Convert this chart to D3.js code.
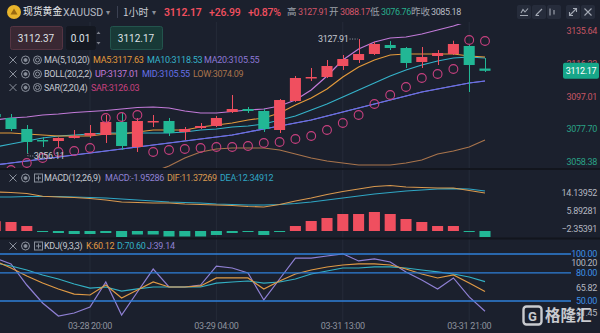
<!DOCTYPE html>
<html>
<head>
<meta charset="utf-8">
<script src="https://cdn.jsdelivr.net/npm/d3@7"></script>
<style>
  html, body { margin: 0; padding: 0; background: #1b202d; }
  svg { display: block; font-family: Roboto, "Noto Sans", sans-serif; }
</style>
</head>
<body>
<svg id="chart" width="600" height="333"></svg>
<script>
// ---- Data (hourly XAUUSD candles) ----
var times = [
  "03-28 14:00", "03-28 15:00", "03-28 16:00", "03-28 17:00", "03-28 18:00",
  "03-28 19:00", "03-28 20:00", "03-28 21:00", "03-28 22:00", "03-28 23:00",
  "03-29 00:00", "03-29 01:00", "03-29 02:00", "03-29 03:00", "03-29 04:00",
  "03-31 06:00", "03-31 07:00", "03-31 08:00", "03-31 09:00", "03-31 10:00",
  "03-31 11:00", "03-31 12:00", "03-31 13:00", "03-31 14:00", "03-31 15:00",
  "03-31 16:00", "03-31 17:00", "03-31 18:00", "03-31 19:00", "03-31 20:00",
  "03-31 21:00", "03-31 22:00"
];
var open = [3086.70, 3084.34, 3077.84, 3071.36, 3070.76, 3072.53, 3073.90, 3074.30, 3081.97, 3067.23,
  3081.97, 3082.56, 3076.08, 3078.43, 3079.61, 3087.87, 3089.64, 3088.47, 3077.25, 3094.36,
  3107.92, 3108.51, 3115.00, 3118.53, 3122.07, 3127.38, 3125.61, 3117.35, 3120.89, 3122.07,
  3126.79, 3113.50];
var high = [3088.50, 3086.69, 3080.20, 3073.13, 3072.90, 3077.25, 3080.20, 3086.10, 3087.29, 3084.34,
  3086.10, 3084.34, 3079.02, 3081.38, 3085.52, 3097.89, 3090.82, 3089.64, 3095.50, 3109.10,
  3113.82, 3118.53, 3121.48, 3130.90, 3129.20, 3129.70, 3126.20, 3126.20, 3124.43, 3129.90,
  3127.38, 3119.71];
var low = [3083.90, 3076.66, 3063.69, 3067.23, 3067.23, 3072.20, 3072.53, 3069.59, 3065.46, 3064.28,
  3079.02, 3073.71, 3071.36, 3077.84, 3079.02, 3087.29, 3087.29, 3076.08, 3075.48, 3093.80,
  3106.15, 3107.92, 3112.64, 3116.77, 3121.48, 3124.43, 3113.82, 3113.82, 3115.59, 3121.48,
  3099.66, 3111.46];
var close = [3084.90, 3077.84, 3070.18, 3070.76, 3072.53, 3073.71, 3075.48, 3081.97, 3067.82, 3082.56,
  3082.56, 3075.48, 3077.84, 3079.61, 3084.34, 3089.64, 3088.47, 3077.84, 3094.94, 3107.92,
  3108.51, 3115.00, 3119.12, 3122.07, 3127.97, 3125.61, 3116.77, 3120.30, 3122.66, 3127.97,
  3115.59, 3112.17];

var ma5 = [3075.48, 3075.48, 3074.90, 3074.30, 3073.71, 3073.71, 3073.71, 3074.90, 3074.90, 3076.08,
  3077.25, 3077.25, 3077.25, 3079.02, 3080.20, 3081.38, 3083.15, 3084.34, 3087.29, 3092.00,
  3096.12, 3101.43, 3108.51, 3114.41, 3118.53, 3121.48, 3122.07, 3122.07, 3122.07, 3122.07,
  3120.89, 3120.30];
var ma10 = [3067.23, 3069.00, 3070.76, 3072.53, 3073.71, 3074.30, 3074.90, 3075.48, 3075.48, 3075.48,
  3075.48, 3075.48, 3076.08, 3077.25, 3077.84, 3079.02, 3079.61, 3080.79, 3083.15, 3085.52,
  3089.05, 3092.59, 3096.71, 3100.84, 3104.97, 3109.10, 3112.64, 3115.59, 3117.95, 3119.71,
  3120.30, 3119.71];
var ma20 = [3056.61, 3057.79, 3058.97, 3060.15, 3061.33, 3062.51, 3063.69, 3064.87, 3066.05, 3067.23,
  3068.41, 3069.59, 3070.76, 3071.95, 3073.13, 3074.30, 3076.08, 3077.84, 3079.61, 3081.38,
  3083.15, 3085.52, 3087.87, 3090.23, 3092.59, 3094.94, 3097.30, 3099.66, 3101.43, 3103.20,
  3104.97, 3106.15];
var bollUp = [3083.15, 3084.34, 3084.92, 3086.10, 3086.69, 3087.58, 3088.17, 3088.76, 3089.64, 3090.52,
  3090.82, 3090.23, 3088.47, 3087.29, 3087.29, 3088.17, 3089.05, 3089.64, 3091.41, 3094.94,
  3100.84, 3109.10, 3118.53, 3125.02, 3129.15, 3131.51, 3132.10, 3133.87, 3136.23, 3138.59,
  3141.54, 3143.89];
var bollMid = [3056.61, 3057.79, 3058.97, 3060.15, 3061.33, 3062.51, 3063.69, 3064.87, 3066.05, 3067.23,
  3068.41, 3069.59, 3070.76, 3071.95, 3073.13, 3074.30, 3076.08, 3077.84, 3079.61, 3081.38,
  3083.15, 3085.52, 3087.87, 3090.23, 3092.59, 3094.94, 3097.30, 3099.66, 3101.43, 3103.20,
  3104.97, 3106.15];
var bollLow = [3031.25, 3032.43, 3034.20, 3035.38, 3037.15, 3038.33, 3040.09, 3041.87, 3044.22, 3047.77,
  3052.48, 3056.02, 3060.74, 3064.28, 3066.05, 3066.64, 3066.64, 3066.64, 3065.46, 3063.10,
  3060.74, 3058.97, 3057.79, 3056.61, 3056.61, 3056.61, 3057.79, 3059.56, 3063.10, 3064.87,
  3067.23, 3071.36];
var sar = [3052.48, 3053.66, 3057.79, 3060.74, 3064.28, 3064.87, 3066.64, 3084.34, 3084.92, 3086.10,
  3064.28, 3065.46, 3066.05, 3066.64, 3067.23, 3067.23, 3067.82, 3069.59, 3070.18, 3071.95,
  3073.71, 3077.25, 3081.38, 3086.10, 3092.59, 3097.89, 3102.61, 3107.92, 3110.28, 3113.23,
  3130.33, 3129.74];

var dif = [17.89, 17.66, 17.20, 15.95, 15.60, 15.37, 14.91, 14.22, 13.30, 13.07,
  12.84, 12.84, 12.39, 12.16, 11.93, 11.70, 11.24, 11.01, 12.16, 13.76,
  15.14, 16.74, 18.12, 19.27, 20.41, 20.87, 20.18, 19.95, 19.72, 19.72,
  18.58, 17.43];
var dea = [15.60, 15.60, 15.83, 15.83, 15.83, 15.60, 15.37, 15.14, 14.68, 14.22,
  13.76, 13.30, 13.07, 12.84, 12.39, 12.16, 11.93, 11.93, 12.16, 12.61,
  13.30, 14.22, 15.14, 16.06, 16.97, 17.66, 18.35, 18.81, 19.27, 19.45,
  19.27, 18.35];
var macdHist = [4.50, 4.13, 2.29, -0.23, -0.92, -1.38, -1.38, -0.92, -2.75, -1.60,
  -1.60, -2.52, -2.52, -2.52, -1.83, -0.92, -0.23, -1.83, -0.23, 2.29,
  4.59, 5.96, 7.80, 7.80, 8.72, 7.80, 5.50, 4.13, 2.29, 2.29,
  -0.23, -2.75];

var kVals = [92.6, 85.1, 76.6, 69.1, 62.8, 57.4, 56.4, 67.0, 53.2, 61.7,
  70.2, 64.9, 64.9, 66.0, 74.5, 74.5, 74.5, 62.8, 71.3, 78.7,
  83.0, 86.2, 88.3, 89.4, 89.4, 88.3, 84.0, 78.7, 74.5, 77.7,
  69.1, 60.12];
var dVals = [90.4, 87.2, 83.0, 77.7, 73.4, 68.1, 63.8, 64.9, 60.6, 62.8,
  64.9, 64.9, 64.9, 64.9, 69.1, 70.2, 71.3, 69.1, 70.2, 73.4,
  78.7, 81.9, 85.1, 85.1, 86.2, 86.2, 85.1, 83.0, 80.9, 78.7,
  75.5, 70.60];
var jVals = [95.7, 89.4, 67.0, 47.9, 34.0, 37.2, 43.6, 70.2, 35.1, 59.6,
  84.0, 64.9, 64.9, 67.0, 87.2, 85.1, 79.8, 51.1, 73.4, 95.7,
  95.7, 97.9, 100.2, 92.6, 94.7, 91.5, 80.9, 72.3, 62.8, 74.5,
  54.3, 39.14];

// tick labels
var priceTicks = [3135.64, 3116.33, 3097.01, 3077.70, 3058.38];
var prevClose = 3085.18;
var lastPrice = 3112.17;
var macdTicks = [14.13952, 5.89281, -2.35391];
var kdjLevels = [100, 80, 50];
var kdjTicks = [100.20, 65.82, 31.45];
var timeTicks = ["03-28 20:00", "03-29 04:00", "03-31 13:00", "03-31 21:00"];

// ---- Styles ----
var bg = "#1b202d",
  upColor = "#f04f5f",
  downColor = "#22b795",
  gridColor = "#252b39",
  textGray = "#c4c8d0",
  iconGray = "#8a909c";
var c = {
  ma5: "#e39a3b", ma10: "#35b2c9", ma20: "#8d78d6",
  up: "#c27ad8", mid: "#6670e8", low: "#a9744c", sar: "#c8407f",
  dif: "#d9994f", dea: "#2fa6c4", k: "#e09a45", d: "#33b0c4", j: "#8f80d4",
  level: "#2f7fd9"
};
var fs = 9, ls = -0.3;
var cjk = "'Noto Sans CJK SC', sans-serif";

var svg = d3.select("#chart");
var plotRight = 560;

// ---- Scales ----
var x = d3.scaleBand().domain(times).range([-12.7, 492.9]);
var cx = function(i) { return x(times[i]) + x.bandwidth() / 2; };
var bodyW = x.bandwidth() * 0.7;

var yMain = d3.scaleLinear().domain([3058.38, 3135.64]).range([162, 31]);
var yMacd = d3.scaleLinear().domain([0, 10]).range([231, 209.2]);
var yKdj = d3.scaleLinear().domain([50, 100]).range([301, 254]);
var yKdjAxis = d3.scaleLinear().domain([31.45, 100.2]).range([313, 263]);

svg.append("rect").attr("width", 600).attr("height", 333).attr("fill", bg);

// clip paths for panes
var defs = svg.append("defs");
[["clipMain", 24, 144], ["clipMacd", 170, 68], ["clipKdj", 239, 81]].forEach(function(p) {
  defs.append("clipPath").attr("id", p[0])
    .append("rect").attr("x", 0).attr("y", p[1]).attr("width", plotRight).attr("height", p[2]);
});

// vertical grid lines
svg.append("g").selectAll("line").data(timeTicks).enter().append("line")
  .attr("x1", function(d) { return x(d) + x.bandwidth() / 2; })
  .attr("x2", function(d) { return x(d) + x.bandwidth() / 2; })
  .attr("y1", 22).attr("y2", 321)
  .attr("stroke", gridColor).attr("stroke-width", 1);

// pane separators
[168, 237.5].forEach(function(y) {
  svg.append("rect").attr("x", 0).attr("y", y).attr("width", 600).attr("height", 2).attr("fill", "#12151d");
});

var idx = d3.range(times.length);

function drawLine(g, values, yScale, color, width) {
  g.append("path")
    .datum(idx)
    .attr("fill", "none")
    .attr("stroke", color)
    .attr("stroke-width", width || 1.2)
    .attr("d", d3.line().x(function(i) { return cx(i); }).y(function(i) { return yScale(values[i]); }));
}

function label(g, t, xPos, y, color, anchor) {
  return g.append("text").attr("x", xPos).attr("y", y).attr("dy", "0.35em")
    .attr("text-anchor", anchor || "start")
    .attr("font-size", fs).attr("letter-spacing", ls).attr("fill", color).text(t);
}

// ---- Main pane ----
var main = svg.append("g").attr("clip-path", "url(#clipMain)");

drawLine(main, bollLow, yMain, c.low);
drawLine(main, bollUp, yMain, c.up);
drawLine(main, ma20, yMain, c.ma20);
drawLine(main, bollMid, yMain, c.mid);
drawLine(main, ma10, yMain, c.ma10);
drawLine(main, ma5, yMain, c.ma5);

// candles
var candle = main.append("g").selectAll("g").data(idx).enter().append("g");
candle.append("line")
  .attr("x1", function(i) { return Math.round(cx(i)) + 0.5; })
  .attr("x2", function(i) { return Math.round(cx(i)) + 0.5; })
  .attr("y1", function(i) { return yMain(high[i]); })
  .attr("y2", function(i) { return yMain(low[i]); })
  .attr("stroke", function(i) { return close[i] >= open[i] ? upColor : downColor; })
  .attr("stroke-width", 1);
candle.append("rect")
  .attr("x", function(i) { return cx(i) - bodyW / 2; })
  .attr("width", bodyW)
  .attr("y", function(i) { return yMain(Math.max(open[i], close[i])); })
  .attr("height", function(i) { return Math.max(1.5, Math.abs(yMain(open[i]) - yMain(close[i]))); })
  .attr("fill", function(i) { return close[i] >= open[i] ? upColor : downColor; });

// SAR
main.append("g").selectAll("circle").data(idx).enter().append("circle")
  .attr("cx", function(i) { return cx(i); })
  .attr("cy", function(i) { return yMain(sar[i]); })
  .attr("r", 4.4)
  .attr("fill", "none")
  .attr("stroke", c.sar)
  .attr("stroke-width", 1.1);

// high / low annotations
var hiIdx = d3.maxIndex(high), loIdx = d3.minIndex(low);
var hy = yMain(high[hiIdx]);
main.append("line").attr("x1", cx(hiIdx) - 9).attr("x2", cx(hiIdx) - 1)
  .attr("y1", hy).attr("y2", hy).attr("stroke", "#9ea3ad").attr("stroke-dasharray", "1,1.5");
label(main, "3127.91", cx(hiIdx) - 10, hy, textGray, "end");
var ly = yMain(low[loIdx]);
main.append("path").attr("d", "M" + (cx(loIdx) + 1) + "," + ly + "V" + (ly + 3) + "H" + (cx(loIdx) + 7))
  .attr("fill", "none").attr("stroke", "#9ea3ad").attr("stroke-dasharray", "1,1.5");
label(main, "3056.11", cx(loIdx) + 7, ly + 3, textGray);

// price axis labels
var axisG = svg.append("g");
priceTicks.forEach(function(d) {
  label(axisG, d3.format(".2f")(d), 597, yMain(d), d > prevClose ? "#c65664" : "#2aa287", "end");
});

// current price tag
var py = yMain(lastPrice);
svg.append("rect").attr("x", 563).attr("y", py - 8).attr("width", 36).attr("height", 16)
  .attr("rx", 2).attr("fill", "#17a689");
label(svg, d3.format(".2f")(lastPrice), 581, py, "#ffffff", "middle");

// ---- MACD pane ----
var macd = svg.append("g").attr("clip-path", "url(#clipMacd)");
macd.append("g").selectAll("rect").data(idx).enter().append("rect")
  .attr("x", function(i) { return cx(i) - bodyW / 2; })
  .attr("width", bodyW)
  .attr("y", function(i) { return Math.min(yMacd(0), yMacd(macdHist[i])); })
  .attr("height", function(i) { return Math.max(1, Math.abs(yMacd(macdHist[i]) - yMacd(0))); })
  .attr("fill", function(i) { return macdHist[i] >= 0 ? upColor : downColor; });
drawLine(macd, dea, yMacd, c.dea);
drawLine(macd, dif, yMacd, c.dif);

macdTicks.forEach(function(d) {
  label(axisG, d3.format(".5f")(d), 597, yMacd(d) - 7, "#b3b7c0", "end");
});

// ---- KDJ pane ----
var kdj = svg.append("g").attr("clip-path", "url(#clipKdj)");
svg.append("g").selectAll("line").data(kdjLevels).enter().append("line")
  .attr("x1", 0).attr("x2", 571)
  .attr("y1", function(d) { return yKdj(d); }).attr("y2", function(d) { return yKdj(d); })
  .attr("stroke", c.level).attr("stroke-width", 1.3);
drawLine(kdj, jVals, yKdj, c.j);
drawLine(kdj, dVals, yKdj, c.d);
drawLine(kdj, kVals, yKdj, c.k);

kdjLevels.forEach(function(d) {
  label(axisG, d3.format(".2f")(d), 597, yKdj(d), "#3b8fe6", "end");
});
kdjTicks.forEach(function(d) {
  label(axisG, d3.format(".2f")(d), 597, yKdjAxis(d), "#b3b7c0", "end");
});

// time axis
timeTicks.forEach(function(d) {
  label(svg, d, x(d) + x.bandwidth() / 2, 326, "#8d929d", "middle");
});

// ---- Legends ----
function icons(y, third) {
  var g = svg.append("g").attr("stroke", iconGray).attr("fill", "none").attr("stroke-width", 1);
  g.append("path").attr("d", "M9.5," + (y - 3.5) + "L16.5," + (y + 3.5) + "M16.5," + (y - 3.5) + "L9.5," + (y + 3.5));
  g.append("circle").attr("cx", 25.5).attr("cy", y).attr("r", 4);
  g.append("circle").attr("cx", 25.5).attr("cy", y).attr("r", 1.5).attr("fill", iconGray);
  if (third === "eye") {
    g.append("circle").attr("cx", 37.5).attr("cy", y).attr("r", 4);
    g.append("circle").attr("cx", 37.5).attr("cy", y).attr("r", 2);
  } else {
    g.append("rect").attr("x", 34.5).attr("y", y - 4).attr("width", 8).attr("height", 8);
    g.append("path").attr("d", "M38.5," + (y - 2.5) + "V" + (y + 2.5) + "M36," + y + "H41");
  }
}
function legend(y, items) {
  items.forEach(function(it) { label(svg, it[0], it[2], y, it[1]); });
}
icons(60, "eye");
legend(60, [["MA(5,10,20)", textGray, 44], ["MA5:3117.63", c.ma5, 93], ["MA10:3118.53", c.ma10, 147], ["MA20:3105.55", c.ma20, 204]]);
icons(74, "eye");
legend(74, [["BOLL(20,2,2)", textGray, 44], ["UP:3137.01", c.up, 95], ["MID:3105.55", c.mid, 142], ["LOW:3074.09", c.low, 193]]);
icons(87.5, "eye");
legend(87.5, [["SAR(2,20,4)", textGray, 44], ["SAR:3126.03", c.sar, 91]]);
icons(178, "plus");
legend(178, [["MACD(12,26,9)", textGray, 44], ["MACD:-1.95286", c.j, 105], ["DIF:11.37269", c.dif, 167], ["DEA:12.34912", c.dea, 220]]);
icons(246, "plus");
legend(246, [["KDJ(9,3,3)", textGray, 44], ["K:60.12", c.k, 86], ["D:70.60", c.d, 117], ["J:39.14", c.j, 147]]);

// ---- Trade boxes ----
var boxes = [
  { x: 10, w: 52, fill: "#3a2833", stroke: "#553543", t: "3112.37" },
  { x: 66, w: 29, fill: "#141821", stroke: "#141821", t: "0.01" },
  { x: 110, w: 52, fill: "#183a37", stroke: "#23544d", t: "3112.17" }
];
boxes.forEach(function(b) {
  svg.append("rect").attr("x", b.x + 0.5).attr("y", 26.5).attr("width", b.w).attr("height", 23)
    .attr("rx", 2).attr("fill", b.fill).attr("stroke", b.stroke);
  svg.append("text").attr("x", b.x + b.w / 2).attr("y", 38).attr("dy", "0.35em")
    .attr("text-anchor", "middle").attr("font-size", 10).attr("fill", "#dfe2e7").text(b.t);
});
svg.append("path").attr("d", "M96.5,34 L98.5,31.5 L100.5,34 Z M96.5,42 L98.5,44.5 L100.5,42 Z").attr("fill", "#7d828c");

// ---- Header ----
svg.append("circle").attr("cx", 14).attr("cy", 12).attr("r", 7).attr("fill", "#e9b52c");
svg.append("path").attr("d", "M10.5,14.5 L14,8.5 L17.5,14.5 Z").attr("fill", "#9a6a10");
function htext(t, xPos, color, size, weight, fam, spacing) {
  svg.append("text").attr("x", xPos).attr("y", 12).attr("dy", "0.35em")
    .attr("font-size", size).attr("font-weight", weight || 400)
    .attr("letter-spacing", spacing || 0)
    .attr("font-family", fam || null).attr("fill", color).text(t);
}
htext("现货黄金", 23, "#e6e8ec", 9.8, 400, cjk);
htext("XAUUSD", 63, "#b7bbc3", 10.5);
htext("▾", 106, "#8a8f99", 8, 400, "DejaVu Sans");
svg.append("line").attr("x1", 117.5).attr("x2", 117.5).attr("y1", 6).attr("y2", 18).attr("stroke", "#3b4152");
htext("1小时", 123, "#c9ccd3", 10, 400, cjk);
htext("▾", 152, "#8a8f99", 8, 400, "DejaVu Sans");
htext("3112.17", 164, upColor, 10.5, 600, null, -0.2);
htext("+26.99", 209, upColor, 10.5, 500, null, -0.2);
htext("+0.87%", 248, upColor, 10.5, 500, null, -0.3);
htext("高", 287, "#9ba0aa", 9.5, 400, cjk);
htext("3127.91", 298, "#d4566a", 9, 400, null, -0.4);
htext("开", 329, "#9ba0aa", 9.5, 400, cjk);
htext("3088.17", 340, "#d4566a", 9, 400, null, -0.4);
htext("低", 370, "#9ba0aa", 9.5, 400, cjk);
htext("3076.76", 381, "#27ae8c", 9, 400, null, -0.4);
htext("昨收", 411, "#9ba0aa", 9.5, 400, cjk);
htext("3085.18", 431, "#b7bbc3", 9, 400, null, -0.4);

// header tool icons
[517, 532, 547, 566, 581].forEach(function(ix) {
  svg.append("rect").attr("x", ix).attr("y", 5).attr("width", 14).attr("height", 14)
    .attr("rx", 2).attr("fill", "#262c3b");
});
var ic = svg.append("g").attr("stroke", "#a3a9b4").attr("fill", "none").attr("stroke-width", 1.1);
ic.append("path").attr("d", "M520,15.5H528 M521,13 L523,9.5 L525,12 L528,8.5");
ic.append("path").attr("d", "M536,15 L542,9 M535.5,15.5 H539");
ic.append("path").attr("d", "M550,8.5 V15.5 M554,10 V14.5 M552,9.5 h0.1");
ic.append("path").attr("d", "M569.5,15.5 L576.5,8.5 M573,8.5 H576.5 V12 M569.5,12 V15.5 H573");
ic.append("path").attr("d", "M584.5,8.5 L591.5,15.5 M591.5,8.5 L584.5,15.5");

// ---- Watermark ----
var wm = svg.append("g").attr("opacity", 0.85);
wm.append("rect").attr("x", 523.5).attr("y", 306.5).attr("width", 18).attr("height", 18).attr("rx", 3)
  .attr("fill", "none").attr("stroke", "#e8e9ec").attr("stroke-width", 2.4);
wm.append("text").attr("x", 532.5).attr("y", 316).attr("dy", "0.35em").attr("text-anchor", "middle")
  .attr("font-size", 13).attr("font-weight", 700).attr("fill", "#e8e9ec").text("G");
wm.append("text").attr("x", 545).attr("y", 316).attr("dy", "0.35em")
  .attr("font-size", 15.5).attr("font-weight", 700).attr("font-family", cjk)
  .attr("fill", "#e8e9ec").text("格隆汇");
</script>
</body>
</html>
